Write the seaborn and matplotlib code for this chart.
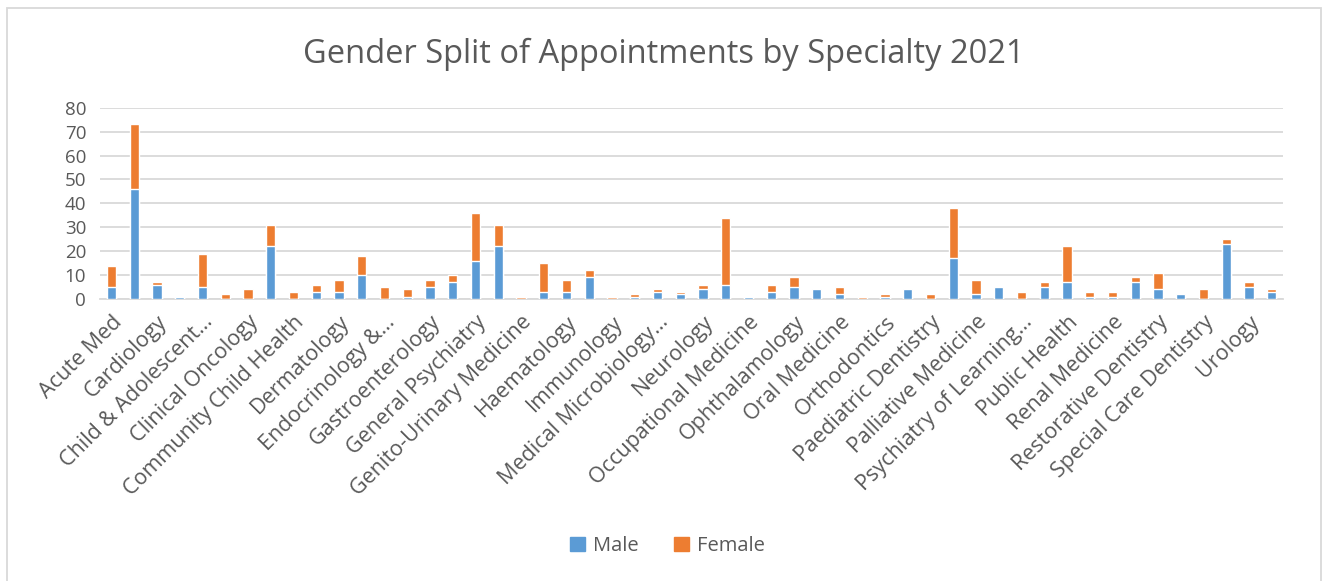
import matplotlib
matplotlib.use("Agg")
import matplotlib.pyplot as plt
from matplotlib.patches import Patch, Rectangle
import seaborn as sns
import pandas as pd

# Specialties (only every other one is labelled on the axis)
specialties = [
    "Acute Med", "Audiological Medicine", "Cardiology", "Chemical Pathology",
    "Child & Adolescent…", "Clinical Genetics", "Clinical Oncology", "Clinical Psychology",
    "Community Child Health", "Dental Medicine", "Dermatology", "Diabetic Medicine",
    "Endocrinology &…", "Forensic Psychiatry", "Gastroenterology", "General Medicine",
    "General Psychiatry", "General Surgery", "Genito-Urinary Medicine", "Geriatric Medicine",
    "Haematology", "Hepatology", "Immunology", "Infectious Diseases",
    "Medical Microbiology…", "Medical Oncology", "Neurology", "Obstetrics",
    "Occupational Medicine", "Old Age Psychiatry", "Ophthalamology", "Optometry",
    "Oral Medicine", "Oral Surgery", "Orthodontics", "Paediatric Cardiology",
    "Paediatric Dentistry", "Paediatrics", "Palliative Medicine", "Plastic Surgery",
    "Psychiatry of Learning…", "Psychotherapy", "Public Health", "Radiology",
    "Renal Medicine", "Respiratory Medicine", "Restorative Dentistry", "Rheumatology",
    "Special Care Dentistry", "Trauma & Orthopaedics", "Urology", "Vascular Surgery",
]
male = [5, 46, 6, 1, 5, 0, 0, 22, 0, 3, 3, 10, 0, 1, 5, 7, 16, 22, 0, 3,
        3, 9, 0, 1, 3, 2, 4, 6, 1, 3, 5, 4, 2, 0, 1, 4, 0, 17, 2, 5,
        0, 5, 7, 1, 1, 7, 4, 2, 0, 23, 5, 3]
female = [9, 27, 1, 0, 14, 2, 4, 9, 3, 3, 5, 8, 5, 3, 3, 3, 20, 9, 1, 12,
          5, 3, 1, 1, 1, 1, 2, 28, 0, 3, 4, 0, 3, 1, 1, 0, 2, 21, 6, 0,
          3, 2, 15, 2, 2, 2, 7, 0, 4, 2, 2, 1]

df = pd.DataFrame({"Specialty": specialties, "Male": male, "Female": female})
df["Total"] = df["Male"] + df["Female"]

blue = "#5B9BD5"
orange = "#ED7D31"
grey_text = "#595959"

sns.set_theme(style="white")
plt.rcParams["font.family"] = ["Open Sans", "DejaVu Sans"]

fig = plt.figure(figsize=(13.27, 5.81), dpi=100)
ax = fig.add_axes([0.0754, 0.4854, 0.8916, 0.3292])

# stacked bars: total (female on top) then male underneath
sns.barplot(data=df, x="Specialty", y="Total", color=orange, width=0.41,
            saturation=1, ax=ax, zorder=3)
sns.barplot(data=df, x="Specialty", y="Male", color=blue, width=0.41,
            saturation=1, ax=ax, zorder=4)

ax.set_xlim(-0.5, len(specialties) - 0.5)
ax.set_ylim(0, 80)
ax.set_yticks(range(0, 81, 10))
ax.yaxis.grid(True, color="#D9D9D9", linewidth=1.3, zorder=0)
ax.set_axisbelow(True)
for s in ["top", "right", "left"]:
    ax.spines[s].set_visible(False)
ax.spines["bottom"].set_color("#D9D9D9")
ax.spines["bottom"].set_linewidth(1.3)

ax.set_xticks(range(0, len(specialties), 2))
ax.set_xticklabels(specialties[::2], rotation=45, ha="right",
                   rotation_mode="anchor", fontsize=15.5, color=grey_text)
ax.tick_params(axis="y", labelsize=13.5, labelcolor=grey_text, length=0, pad=10)
ax.tick_params(axis="x", length=0, pad=9)
ax.set_xlabel("")
ax.set_ylabel("")

fig.text(0.5, 0.907, "Gender Split of Appointments by Specialty 2021",
         ha="center", va="center", fontsize=23.5, color=grey_text)

handles = [Patch(color=blue, label="Male"), Patch(color=orange, label="Female")]
fig.legend(handles=handles, loc="center", bbox_to_anchor=(0.503, 0.06), ncol=2,
           frameon=False, fontsize=14.5, labelcolor=grey_text,
           handlelength=0.7, handleheight=0.7, columnspacing=1.8, handletextpad=0.4)

# chart area border
fig.patches.append(Rectangle((7 / 1327, -0.02), 1314 / 1327, 1.003 - 10 / 581 + 0.02,
                             transform=fig.transFigure, fill=False,
                             edgecolor="#D9D9D9", linewidth=1.3))

fig.savefig("out.png", dpi=100)
